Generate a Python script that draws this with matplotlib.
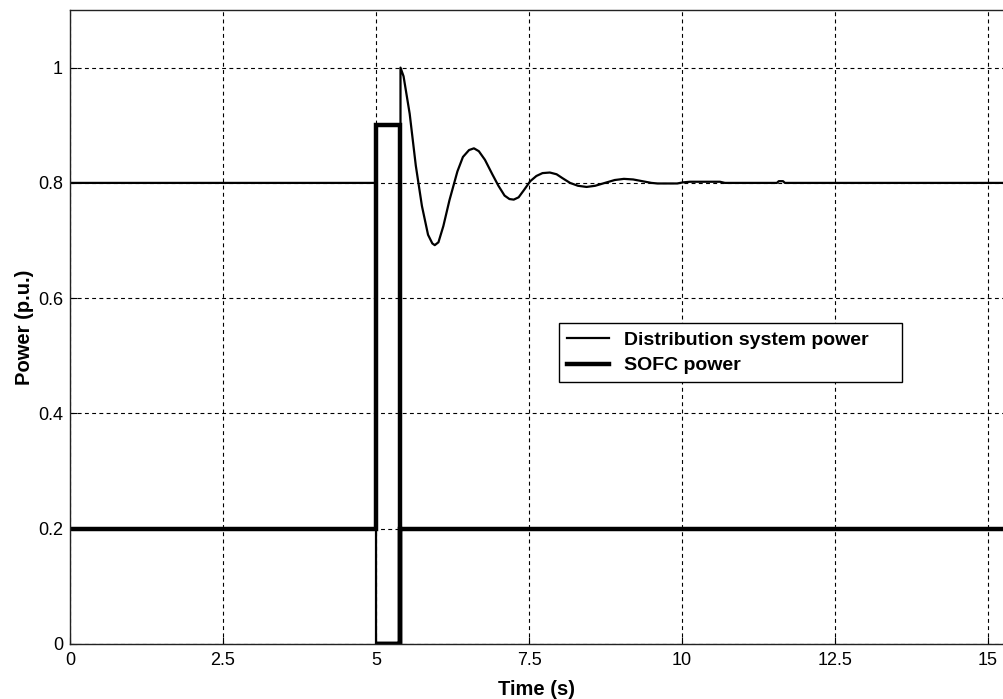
import numpy as np
import matplotlib.pyplot as plt

plt.rcParams['font.family'] = ['Liberation Sans', 'DejaVu Sans']

# distribution system power (p.u.)
dist_t = [0, 5.0, 5.0, 5.4, 5.4, 5.45, 5.55, 5.65, 5.7, 5.75, 5.85, 5.92, 5.96,
          6.02, 6.1, 6.2, 6.33, 6.42, 6.52, 6.60, 6.68, 6.78, 6.9, 7.0, 7.1,
          7.18, 7.25, 7.33, 7.42, 7.52, 7.62, 7.72, 7.84, 7.95, 8.05, 8.17,
          8.30, 8.44, 8.58, 8.74, 8.9, 9.05, 9.2, 9.35, 9.5, 9.6, 9.92, 10.02,
          10.13, 10.62, 10.7, 11.55, 11.58, 11.65, 11.68, 15.3]
dist_p = [0.8, 0.8, 0.0, 0.0, 1.0, 0.985, 0.92, 0.83, 0.795, 0.76, 0.71, 0.695, 0.692,
          0.697, 0.725, 0.77, 0.82, 0.845, 0.857, 0.86, 0.855, 0.84, 0.815, 0.795, 0.778,
          0.772, 0.771, 0.775, 0.788, 0.803, 0.812, 0.817, 0.818, 0.815, 0.808, 0.800,
          0.795, 0.793, 0.795, 0.800, 0.805, 0.807, 0.806, 0.803, 0.800, 0.799, 0.799, 0.801,
          0.802, 0.802, 0.800, 0.800, 0.803, 0.803, 0.800, 0.800]

# SOFC power (p.u.)
sofc_t = [0, 5.0, 5.0, 5.4, 5.4, 5.0, 5.0, 5.4, 5.4, 15.3]
sofc_p = [0.2, 0.2, 0.9, 0.9, 0.0, 0.0, 0.0, 0.0, 0.2, 0.2]

xticks = [0, 2.5, 5, 7.5, 10, 12.5, 15]
xtick_labels = ['0', '2.5', '5', '7.5', '10', '12.5', '15']
yticks = [0, 0.2, 0.4, 0.6, 0.8, 1.0]
ytick_labels = ['0', '0.2', '0.4', '0.6', '0.8', '1']

fig = plt.figure(figsize=(10.04, 6.99), dpi=100)
ax = fig.add_axes([0.0697, 0.0787, 0.9303, 0.907])

ax.plot(dist_t, dist_p, color='black', lw=1.6, label='Distribution system power',
        solid_joinstyle='round')
ax.plot(sofc_t, sofc_p, color='black', lw=3.2, label='SOFC power',
        solid_joinstyle='miter')

ax.set_xlim(0, 15.26)
ax.set_ylim(0, 1.1)
ax.set_xticks(xticks)
ax.set_xticklabels(xtick_labels)
ax.set_yticks(yticks)
ax.set_yticklabels(ytick_labels)
ax.tick_params(direction='in', length=5, width=0.8, labelsize=13, colors='black', pad=5)
ax.tick_params(axis='x', pad=6)

ax.grid(True, color='black', lw=0.8, linestyle=(0, (3.5, 3.0)))
ax.spines['right'].set_visible(False)
for s in ['top', 'left', 'bottom']:
    ax.spines[s].set_color('#222222')
    ax.spines[s].set_linewidth(1.0)

ax.set_xlabel('Time (s)', fontsize=14.5, fontweight='bold', labelpad=8)
ax.set_ylabel('Power (p.u.)', fontsize=14.5, fontweight='bold', labelpad=3)

leg = ax.legend(loc='upper left', bbox_to_anchor=(0.5236, 0.506, 0.3674, 0.0),
                mode='expand', prop={'size': 14, 'weight': 'bold'}, fancybox=False,
                framealpha=1, edgecolor='black', handlelength=2.15, handletextpad=0.8,
                borderpad=0.4, labelspacing=0.42, borderaxespad=0)
leg.get_frame().set_linewidth(1.0)

fig.savefig('out.png', dpi=100)
